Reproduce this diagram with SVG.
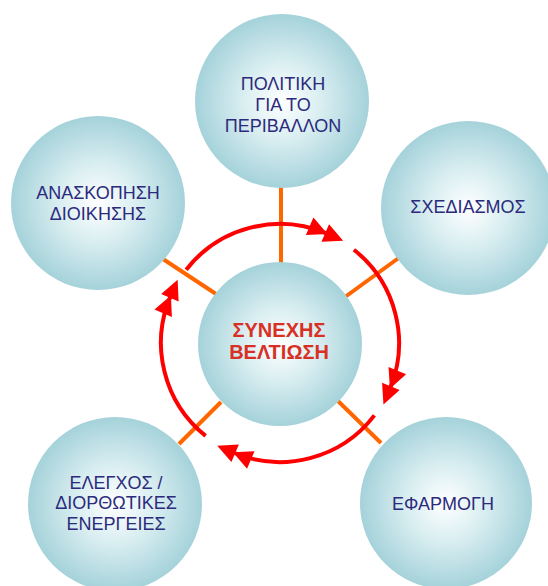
<svg xmlns="http://www.w3.org/2000/svg" width="548" height="586" viewBox="0 0 548 586">
  <defs>
    <radialGradient id="bubble" cx="50%" cy="50%" r="50%">
      <stop offset="0%" stop-color="#FFFFFF"/>
      <stop offset="45%" stop-color="#D9EEF1"/>
      <stop offset="100%" stop-color="#A5D2DA"/>
    </radialGradient>
    <marker id="dblarrow" markerUnits="userSpaceOnUse" markerWidth="60" markerHeight="40" refX="19" refY="0" orient="auto" overflow="visible">
      <path d="M0,-9.5 L19.5,0 L0,9.5 Z M17,-9.5 L36.5,0 L17,9.5 Z" fill="#FF0000"/>
    </marker>
    <style>
      .node { fill: url(#bubble); }
      .lbl { font-family: "Liberation Sans", Arial, sans-serif; font-size: 18px; fill: #2B2A7C; text-anchor: middle; }
      .center { font-family: "Liberation Sans", Arial, sans-serif; font-size: 20px; font-weight: bold; fill: #D93025; text-anchor: middle; }
      .spoke { stroke: #FF6600; stroke-width: 4; fill: none; }
      .cycle { stroke: #FF0000; stroke-width: 4; fill: none; marker-end: url(#dblarrow); }
    </style>
  </defs>
  <rect width="548" height="586" fill="#FFFFFF"/>

  <g id="connectors">
    <line class="spoke" x1="281" y1="186" x2="281" y2="264"/>
    <line class="spoke" x1="163" y1="259" x2="216" y2="294"/>
    <line class="spoke" x1="345" y1="297" x2="400" y2="257"/>
    <line class="spoke" x1="221" y1="402" x2="179" y2="444"/>
    <line class="spoke" x1="338" y1="401" x2="381" y2="443"/>
    <path class="cycle" d="M186.2,269.7 A119,119 0 0 1 327.1,233.7"/>
    <path class="cycle" d="M353.9,249.7 A119,119 0 0 1 390.1,388.2"/>
    <path class="cycle" d="M374.4,415.4 A119,119 0 0 1 233.3,452.5"/>
    <path class="cycle" d="M205.6,435.9 A119,119 0 0 1 170.7,295.9"/>
  </g>

  <g id="node-policy">
    <circle class="node" cx="282" cy="101" r="87"/>
    <text class="lbl" x="283" y="90">ΠΟΛΙΤΙΚΗ</text>
    <text class="lbl" x="283" y="111">ΓΙΑ ΤΟ</text>
    <text class="lbl" x="283" y="132">ΠΕΡΙΒΑΛΛΟΝ</text>
  </g>

  <g id="node-planning">
    <circle class="node" cx="468" cy="208" r="87"/>
    <text class="lbl" x="468" y="213">ΣΧΕΔΙΑΣΜΟΣ</text>
  </g>

  <g id="node-implementation">
    <circle class="node" cx="446" cy="503" r="86"/>
    <text class="lbl" x="443" y="510">ΕΦΑΡΜΟΓΗ</text>
  </g>

  <g id="node-checking">
    <circle class="node" cx="115" cy="504" r="87"/>
    <text class="lbl" x="116" y="488.5">ΕΛΕΓΧΟΣ /</text>
    <text class="lbl" x="116" y="509">ΔΙΟΡΘΩΤΙΚΕΣ</text>
    <text class="lbl" x="116" y="529.5">ΕΝΕΡΓΕΙΕΣ</text>
  </g>

  <g id="node-review">
    <circle class="node" cx="98" cy="203" r="87"/>
    <text class="lbl" x="98" y="199">ΑΝΑΣΚΟΠΗΣΗ</text>
    <text class="lbl" x="98" y="220">ΔΙΟΙΚΗΣΗΣ</text>
  </g>

  <g id="node-center">
    <circle class="node" cx="280" cy="344" r="82"/>
    <text class="center" x="279" y="337">ΣΥΝΕΧΗΣ</text>
    <text class="center" x="279" y="359">ΒΕΛΤΙΩΣΗ</text>
  </g>
</svg>
